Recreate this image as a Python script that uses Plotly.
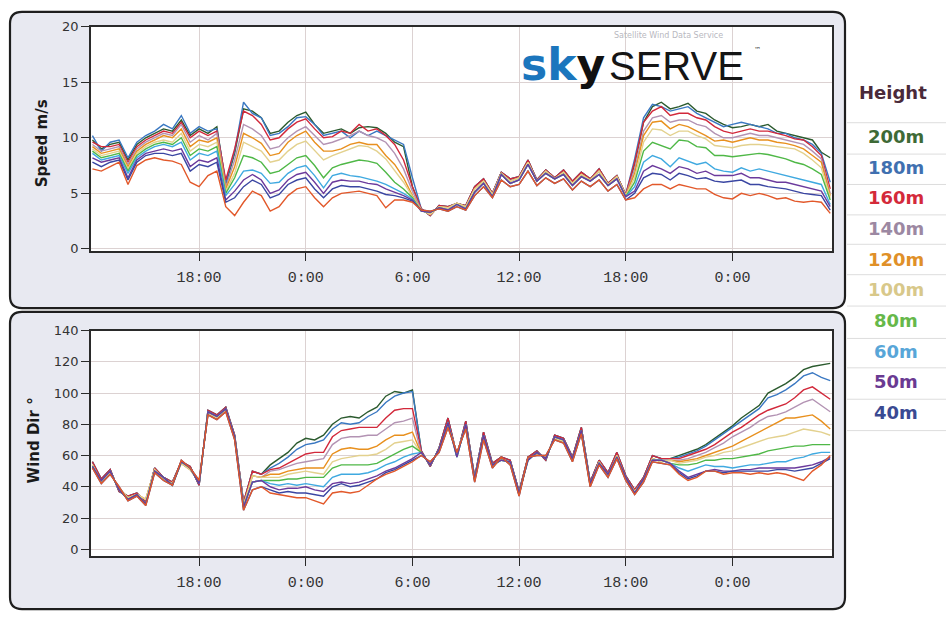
import plotly.graph_objects as go

# ---------------- data ----------------
# time axis: hours counted from midnight of day 1, 30-minute steps 12:00 -> 05:30 (day 3)
hours = [12.0 + 0.5 * i for i in range(84)]
tick_vals = [18, 24, 30, 36, 42, 48]
tick_text = ["18:00", "0:00", "6:00", "12:00", "18:00", "0:00"]

heights = ["200m", "180m", "160m", "140m", "120m", "100m", "80m", "60m", "50m", "40m", "30m"]
legend_heights = ["200m", "180m", "160m", "140m", "120m", "100m", "80m", "60m", "50m", "40m"]
line_colors = ["#2b5a2e", "#3a78c2", "#d2283a", "#b393b3", "#e8901e", "#e3d18e",
               "#4fb847", "#3fa9e0", "#6b3a9c", "#3a46a2", "#e2582a"]
legend_colors = ["#3e6a36", "#4070b0", "#d42a3a", "#9c88a2", "#e09028", "#d8c88a",
                 "#66b84a", "#58a6d8", "#6a3a92", "#3a4a92"]

# wind speed (m/s) - shared daytime stretches where all heights coincide
spd_day2_a = [3.6, 3.0, 3.9, 3.8, 4.1, 3.9, 5.6, 6.3, 5.0, 6.9, 6.3, 6.5, 8.0, 6.2, 7.1, 6.4, 7.1, 6.1, 6.9, 6.3, 7.2, 5.9, 6.6, 4.9]
spd_day2_b = [3.5, 3.1, 3.8, 3.7, 4.1, 3.8, 5.4, 6.1, 4.9, 6.8, 6.1, 6.4, 7.8, 6.1, 7.0, 6.3, 6.9, 5.9, 6.7, 6.2, 7.0, 5.8, 6.5, 4.8]
spd_day2_c = [3.4, 3.3, 3.7, 3.5, 4.0, 3.6, 5.1, 5.9, 4.7, 6.7, 5.9, 6.2, 7.6, 6.1, 6.8, 6.3, 6.7, 5.7, 6.5, 6.1, 6.7, 5.7, 6.3, 4.7]
spd_day2_d = [3.5, 3.4, 3.6, 3.4, 3.8, 3.5, 4.8, 5.6, 4.6, 6.2, 5.6, 5.8, 7.0, 5.7, 6.4, 5.9, 6.3, 5.3, 6.1, 5.6, 6.2, 5.2, 5.8, 4.4]

spd_200 = ([9.8, 9.0, 9.4, 9.6, 8.0, 9.4, 10.0, 10.4, 10.8, 10.6, 11.6, 10.2, 10.8, 10.4, 11.0, 5.8, 8.6]
           + [12.6, 12.4, 11.8, 10.4, 10.6, 11.4, 12.0, 12.3, 11.2, 10.4, 10.6, 10.8, 10.4, 10.9, 11.0, 10.9, 10.4, 9.6, 9.2, 5.6]
           + spd_day2_a
           + [7.6, 11.4, 12.8, 13.2, 12.6, 12.8, 13.1, 12.4, 12.2, 11.6, 11.2, 10.9, 11.0, 11.2, 11.0, 11.2, 10.6, 10.4, 10.2, 10.0, 9.8, 8.7, 8.2])
spd_180 = ([10.2, 8.8, 9.6, 9.8, 8.2, 9.6, 10.2, 10.6, 11.2, 10.8, 12.0, 10.4, 11.0, 10.6, 10.8, 6.0, 8.8]
           + [13.2, 12.2, 11.8, 10.2, 10.4, 11.0, 11.8, 11.9, 11.2, 10.2, 10.4, 10.6, 10.0, 10.6, 10.2, 10.6, 10.2, 9.8, 9.4, 6.4]
           + spd_day2_a
           + [8.1, 11.8, 13.0, 12.8, 12.4, 12.6, 12.8, 12.2, 11.8, 11.4, 11.0, 11.2, 11.4, 11.2, 11.0, 10.8, 10.4, 10.4, 10.0, 9.8, 9.4, 8.6, 6.0])
spd_160 = ([9.6, 9.2, 9.2, 9.4, 7.8, 9.2, 9.8, 10.2, 10.6, 10.4, 11.4, 10.0, 10.6, 10.2, 10.6, 6.2, 9.0]
           + [12.4, 12.0, 11.2, 9.8, 10.0, 10.8, 11.4, 11.7, 10.8, 10.0, 10.1, 10.6, 10.4, 11.2, 10.6, 10.8, 10.2, 9.4, 8.0, 5.6]
           + spd_day2_a
           + [7.8, 11.4, 12.4, 12.8, 12.0, 12.2, 12.2, 11.8, 11.6, 11.0, 10.6, 10.4, 10.6, 10.8, 10.6, 10.6, 10.4, 10.2, 9.9, 9.8, 9.2, 8.4, 5.4])
spd_140 = ([9.4, 8.8, 9.0, 9.2, 7.6, 9.0, 9.6, 10.0, 10.4, 10.2, 11.2, 9.6, 10.2, 9.8, 10.4, 5.6, 8.0]
           + [11.2, 10.8, 10.2, 9.0, 9.2, 10.0, 10.6, 11.0, 10.2, 9.4, 9.6, 9.9, 10.2, 10.6, 10.2, 10.0, 9.6, 8.6, 7.2, 5.2]
           + spd_day2_b
           + [7.2, 10.6, 11.8, 12.0, 11.4, 11.6, 11.6, 11.2, 11.0, 10.4, 10.0, 10.0, 10.2, 10.4, 10.2, 10.2, 10.0, 9.8, 9.6, 9.4, 8.8, 8.1, 5.0])
spd_120 = ([9.2, 8.6, 8.8, 9.0, 7.4, 8.8, 9.4, 9.8, 10.2, 10.0, 10.8, 9.2, 9.8, 9.6, 10.0, 5.4, 7.4]
           + [10.4, 10.0, 9.5, 8.4, 8.6, 9.6, 10.2, 10.6, 9.6, 8.8, 8.8, 9.0, 9.4, 9.6, 9.4, 9.4, 8.4, 7.6, 6.4, 4.8]
           + spd_day2_b
           + [6.8, 10.2, 11.4, 11.5, 10.8, 11.2, 11.0, 10.6, 10.2, 9.7, 9.8, 9.6, 9.8, 10.0, 9.8, 9.8, 9.6, 9.5, 9.3, 9.0, 8.4, 7.8, 4.8])
spd_100 = ([9.0, 8.4, 8.6, 8.8, 7.2, 8.6, 9.2, 9.6, 9.8, 9.6, 10.4, 8.8, 9.4, 9.2, 9.6, 5.2, 6.8]
           + [9.6, 9.2, 8.8, 7.8, 8.0, 8.8, 9.4, 9.7, 8.8, 8.0, 8.4, 8.7, 9.0, 9.3, 9.2, 8.8, 8.1, 7.0, 6.0, 4.7]
           + spd_day2_b
           + [6.4, 9.6, 10.8, 10.7, 10.2, 10.6, 10.6, 10.2, 9.9, 9.3, 9.2, 9.1, 9.3, 9.4, 9.4, 9.3, 9.2, 9.1, 9.0, 8.6, 8.0, 7.3, 4.6])
spd_80 = ([8.8, 8.2, 8.4, 8.6, 7.0, 8.4, 9.0, 9.4, 9.6, 9.4, 10.0, 8.4, 9.0, 8.8, 9.2, 5.0, 6.4]
          + [8.4, 8.2, 7.8, 6.8, 7.0, 7.6, 8.2, 8.4, 7.5, 6.4, 7.3, 7.6, 7.8, 8.0, 7.9, 7.7, 6.9, 6.0, 5.4, 4.6]
          + spd_day2_c
          + [6.0, 8.8, 9.6, 9.3, 9.0, 9.8, 9.7, 9.2, 9.1, 8.4, 8.4, 8.3, 8.4, 8.5, 8.6, 8.5, 8.3, 8.1, 7.8, 7.6, 7.2, 6.7, 4.4])
spd_60 = ([8.6, 8.0, 8.2, 8.4, 6.8, 8.2, 8.8, 9.2, 9.4, 9.2, 9.6, 8.0, 8.6, 8.4, 8.8, 4.8, 5.8]
          + [7.0, 7.1, 6.8, 5.9, 6.0, 6.8, 7.3, 7.5, 6.6, 5.5, 6.6, 6.8, 6.6, 6.5, 6.3, 6.1, 5.8, 5.4, 5.0, 4.5]
          + spd_day2_c
          + [5.6, 7.8, 8.4, 8.1, 7.4, 8.2, 7.9, 7.6, 7.8, 7.2, 7.0, 6.9, 7.3, 7.0, 7.2, 7.0, 6.8, 6.6, 6.4, 6.2, 6.0, 5.8, 4.0])
spd_50 = ([8.2, 7.8, 8.0, 8.2, 6.4, 8.0, 8.6, 8.8, 9.0, 8.8, 9.0, 7.4, 8.0, 7.8, 8.2, 4.4, 5.2]
          + [6.2, 6.7, 6.2, 5.0, 5.3, 6.2, 6.7, 6.9, 6.0, 5.0, 6.0, 6.2, 6.1, 6.1, 5.9, 5.8, 5.4, 5.1, 4.8, 4.4]
          + spd_day2_c
          + [5.2, 7.0, 7.5, 7.2, 6.8, 7.4, 7.2, 6.8, 7.0, 6.6, 6.6, 6.6, 6.8, 6.4, 6.4, 6.2, 6.0, 6.0, 5.8, 5.6, 5.4, 5.2, 3.8])
spd_40 = ([7.8, 7.4, 7.8, 8.0, 6.2, 7.8, 8.4, 8.6, 8.6, 8.4, 8.6, 7.0, 7.6, 7.4, 7.8, 4.2, 4.6]
          + [5.6, 6.2, 5.8, 4.6, 4.9, 5.8, 6.2, 6.4, 5.4, 4.6, 5.4, 5.7, 5.6, 5.6, 5.4, 5.2, 4.9, 4.8, 4.6, 4.3]
          + spd_day2_d
          + [5.0, 6.4, 6.8, 6.7, 6.2, 6.8, 6.6, 6.3, 6.4, 6.1, 6.0, 6.1, 6.2, 5.8, 5.8, 5.6, 5.5, 5.4, 5.2, 5.0, 4.9, 4.8, 3.5])
spd_30 = ([7.2, 7.0, 7.4, 7.8, 5.8, 7.5, 8.0, 8.2, 8.0, 7.9, 7.6, 6.0, 5.6, 6.6, 7.0, 3.8, 3.0]
          + [4.2, 5.2, 4.8, 3.4, 3.8, 4.8, 5.4, 5.6, 4.6, 3.8, 4.6, 5.0, 5.1, 5.2, 5.0, 4.8, 3.7, 4.4, 4.4, 4.2]
          + spd_day2_d
          + [4.6, 5.4, 5.8, 5.8, 5.4, 5.8, 5.6, 5.4, 5.4, 4.9, 4.6, 4.5, 5.0, 4.8, 5.0, 4.8, 4.5, 4.6, 4.3, 4.2, 4.3, 4.2, 3.2])

# wind direction (degrees) - shared stretches
dir_day1_a = [56, 45, 51, 37, 34, 36, 30, 52, 46, 43, 56, 53, 41, 89, 86, 91, 73, 30, 50, 48]
dir_day1_b = [54, 43, 49, 39, 33, 35, 32, 51, 45, 42, 55, 51, 43, 87, 84, 89, 71, 28, 47, 46]
dir_day1_c = [53, 44, 50, 38, 32, 35, 29, 50, 46, 41, 56, 52, 42, 88, 85, 90, 72, 27, 43, 44]
dir_day1_d = [52, 42, 48, 40, 31, 34, 28, 49, 44, 41, 57, 52, 44, 86, 83, 88, 70, 25, 38, 40]
dir_day2_a = [63, 53, 65, 84, 60, 82, 46, 75, 55, 59, 57, 37, 59, 63, 57, 73, 71, 59, 78, 43, 57, 49, 62, 47, 38, 46, 60, 58, 58]
dir_day2_b = [61, 55, 63, 80, 61, 79, 44, 72, 53, 58, 55, 35, 58, 61, 59, 71, 69, 57, 75, 41, 56, 47, 60, 45, 37, 44, 58, 56, 57]
dir_day2_c = [62, 54, 64, 81, 59, 80, 45, 73, 54, 57, 56, 36, 57, 62, 58, 72, 70, 58, 76, 42, 55, 48, 59, 46, 36, 45, 57, 57, 55]
dir_day2_d = [60, 56, 62, 78, 62, 77, 43, 70, 52, 59, 54, 34, 59, 60, 60, 70, 68, 56, 74, 40, 54, 46, 58, 44, 35, 43, 56, 55, 54]

dir_200 = (dir_day1_a + [54, 58, 62, 68, 71, 70, 73, 80, 84, 85, 84, 88, 91, 98, 101, 100, 102]
           + dir_day2_a + [60, 62, 64, 67, 71, 75, 79, 84, 88, 92, 100, 103, 106, 110, 115, 117, 118, 119])
dir_180 = (dir_day1_a + [52, 55, 59, 64, 67, 68, 70, 77, 81, 80, 81, 85, 88, 94, 98, 100, 101]
           + dir_day2_a + [59, 61, 63, 66, 70, 74, 78, 82, 86, 90, 97, 99, 102, 106, 111, 113, 110, 108])
dir_160 = (dir_day1_a + [51, 52, 55, 58, 61, 62, 62, 72, 76, 77, 78, 78, 78, 84, 89, 90, 90]
           + dir_day2_a + [58, 60, 62, 64, 67, 71, 75, 78, 82, 86, 89, 91, 93, 97, 102, 104, 100, 96])
dir_140 = (dir_day1_b + [50, 51, 53, 55, 56, 57, 58, 67, 71, 72, 72, 73, 73, 77, 81, 82, 84]
           + dir_day2_b + [57, 58, 60, 62, 65, 68, 72, 75, 78, 82, 85, 86, 88, 91, 94, 96, 92, 88])
dir_120 = (dir_day1_b + [48, 48, 50, 51, 52, 52, 52, 61, 64, 65, 64, 64, 66, 70, 73, 73, 75]
           + dir_day2_b + [56, 57, 58, 60, 62, 64, 66, 69, 72, 75, 78, 81, 84, 84, 85, 86, 82, 77])
dir_100 = (dir_day1_b + [46, 46, 48, 49, 50, 49, 48, 56, 58, 59, 60, 60, 61, 64, 68, 69, 70]
           + dir_day2_b + [55, 56, 57, 59, 60, 62, 63, 65, 67, 69, 71, 72, 73, 75, 77, 76, 75, 73])
dir_80 = (dir_day1_c + [44, 44, 45, 45, 46, 46, 46, 52, 54, 54, 54, 54, 55, 58, 61, 64, 66]
          + dir_day2_c + [54, 54, 55, 57, 57, 58, 58, 59, 60, 61, 63, 64, 65, 66, 66, 67, 67, 67])
dir_60 = (dir_day1_c + [42, 41, 42, 41, 42, 41, 40, 46, 48, 48, 48, 49, 51, 54, 56, 59, 61]
          + dir_day2_c + [52, 50, 52, 54, 53, 53, 52, 53, 54, 54, 55, 56, 56, 58, 59, 61, 62, 62])
dir_50 = (dir_day1_c + [40, 38, 39, 39, 40, 38, 37, 42, 43, 42, 43, 45, 47, 50, 52, 55, 58]
          + dir_day2_c + [50, 46, 48, 50, 51, 50, 50, 51, 51, 52, 52, 52, 52, 52, 53, 54, 56, 59])
dir_40 = (dir_day1_d + [38, 36, 37, 36, 36, 35, 34, 40, 42, 40, 41, 43, 45, 49, 51, 54, 57]
          + dir_day2_d + [49, 45, 47, 50, 50, 49, 50, 50, 50, 50, 50, 51, 51, 50, 51, 52, 55, 58])
dir_30 = (dir_day1_d + [36, 35, 34, 33, 33, 31, 29, 36, 37, 36, 37, 41, 45, 48, 50, 53, 56]
          + dir_day2_d + [48, 44, 46, 50, 50, 48, 49, 49, 48, 49, 48, 49, 48, 46, 44, 50, 54, 60])

speed_series = [spd_200, spd_180, spd_160, spd_140, spd_120, spd_100, spd_80, spd_60, spd_50, spd_40, spd_30]
dir_series = [dir_200, dir_180, dir_160, dir_140, dir_120, dir_100, dir_80, dir_60, dir_50, dir_40, dir_30]

for s in speed_series + dir_series:
    if len(s) != len(hours):
        raise ValueError("series length %d != %d" % (len(s), len(hours)))

# ---------------- figure ----------------
W, H = 946, 617


def fx(px):
    return px / W


def fy(py):
    return 1 - py / H


def rrect(x0, y0, x1, y1, r):
    return ("M {a},{b} L {c},{b} Q {d},{b} {d},{e} L {d},{f} Q {d},{g} {c},{g} "
            "L {a},{g} Q {h},{g} {h},{f} L {h},{e} Q {h},{b} {a},{b} Z").format(
        a=fx(x0 + r), b=fy(y0), c=fx(x1 - r), d=fx(x1), e=fy(y0 + r),
        f=fy(y1 - r), g=fy(y1), h=fx(x0))


fig = go.Figure()

for name, col, ys in zip(heights, line_colors, speed_series):
    fig.add_trace(go.Scatter(x=hours, y=ys, mode="lines", name=name,
                             line=dict(color=col, width=1.4), showlegend=False,
                             xaxis="x", yaxis="y"))
for name, col, ys in zip(heights, line_colors, dir_series):
    fig.add_trace(go.Scatter(x=hours, y=ys, mode="lines", name=name,
                             line=dict(color=col, width=1.4), showlegend=False,
                             xaxis="x2", yaxis="y2"))

plot_l, plot_r = 91, 832
top_t, top_b = 20, 249
bot_t, bot_b = 330, 560

grid_col = "#dcd2d2"
axis_common = dict(showline=True, linecolor="#2a2a2a", linewidth=1.6, mirror=True,
                   showgrid=True, gridcolor=grid_col, gridwidth=1.2, zeroline=False,
                   ticks="outside", ticklen=8, tickwidth=1.4, tickcolor="#2a2a2a")
xfont = dict(family="Liberation Mono", size=15, color="#333333")
yfont = dict(family="DejaVu Sans", size=13, color="#333333")

fig.update_layout(
    width=W, height=H, autosize=False,
    margin=dict(l=0, r=0, t=0, b=0),
    paper_bgcolor="white", plot_bgcolor="white",
    xaxis=dict(domain=[fx(plot_l), fx(plot_r)], range=[11.92, 53.6], anchor="y",
               tickvals=tick_vals, ticktext=tick_text, tickfont=xfont,
               ticklabelstandoff=3, **axis_common),
    yaxis=dict(domain=[fy(top_b), fy(top_t)], range=[-0.2, 20], anchor="x",
               tickvals=[0, 5, 10, 15, 20], tickfont=yfont, **axis_common),
    xaxis2=dict(domain=[fx(plot_l), fx(plot_r)], range=[11.92, 53.6], anchor="y2",
                tickvals=tick_vals, ticktext=tick_text, tickfont=xfont,
                ticklabelstandoff=3, **axis_common),
    yaxis2=dict(domain=[fy(bot_b), fy(bot_t)], range=[-4.4, 140], anchor="x2",
                tickvals=[0, 20, 40, 60, 80, 100, 120, 140], tickfont=yfont, **axis_common),
)

shapes = []
panel_fill = "#e8e9f1"
for (x0, y0, x1, y1) in [(10, 5, 845, 307), (10, 311, 845, 614)]:
    shapes.append(dict(type="path", path=rrect(x0, y0, x1, y1, 12), xref="paper", yref="paper",
                       fillcolor=panel_fill, line=dict(color="#1e1e1e", width=2.2), layer="below"))
for (t, b) in [(top_t, top_b), (bot_t, bot_b)]:
    shapes.append(dict(type="rect", xref="paper", yref="paper", x0=fx(plot_l), x1=fx(plot_r),
                       y0=fy(b), y1=fy(t), fillcolor="white", line=dict(width=0), layer="below"))
# legend separators
for py in [118, 150, 181, 212, 242, 273, 305, 338, 368, 400, 432]:
    shapes.append(dict(type="line", xref="paper", yref="paper", x0=fx(847), x1=1.0,
                       y0=fy(py), y1=fy(py), line=dict(color="#dddddd", width=1)))
fig.update_layout(shapes=shapes)

ann = []
# axis titles
ann.append(dict(text="<b>Speed m/s</b>", x=fx(42), y=fy(139), xref="paper", yref="paper",
                textangle=-90, showarrow=False, xanchor="center", yanchor="middle",
                font=dict(family="DejaVu Sans", size=15, color="#1a1a1a")))
ann.append(dict(text="<b>Wind Dir °</b>", x=fx(34), y=fy(442), xref="paper", yref="paper",
                textangle=-90, showarrow=False, xanchor="center", yanchor="middle",
                font=dict(family="DejaVu Sans", size=15, color="#1a1a1a")))
# legend (coloured text rows)
ann.append(dict(text="<b>Height</b>", x=fx(893), y=fy(87), xref="paper", yref="paper",
                showarrow=False, xanchor="center", yanchor="middle",
                font=dict(family="DejaVu Sans", size=18, color="#4a2a3a")))
for i, (lab, col) in enumerate(zip(legend_heights, legend_colors)):
    ann.append(dict(text="<b>%s</b>" % lab, x=fx(896), y=fy(132 + i * 31.3),
                    xref="paper", yref="paper", showarrow=False,
                    xanchor="center", yanchor="middle",
                    font=dict(family="DejaVu Sans", size=18, color=col)))
# logo
ann.append(dict(text="Satellite Wind Data Service", x=fx(668), y=fy(29), xref="paper", yref="paper",
                showarrow=False, xanchor="center", yanchor="middle",
                font=dict(family="DejaVu Sans", size=8, color="#b8b8c0")))
ann.append(dict(text="<b><span style='color:#1b76bd'>sk</span><span style='color:#111111'>y</span></b>",
                x=fx(607), y=fy(59), xref="paper", yref="paper",
                showarrow=False, xanchor="right", yanchor="middle",
                font=dict(family="DejaVu Sans", size=44, color="#1b76bd")))
ann.append(dict(text="SERVE", x=fx(607), y=fy(60), xref="paper", yref="paper",
                showarrow=False, xanchor="left", yanchor="middle",
                font=dict(family="Liberation Sans", size=40, color="#151515")))
ann.append(dict(text="™", x=fx(752), y=fy(44), xref="paper", yref="paper",
                showarrow=False, xanchor="left", yanchor="middle",
                font=dict(family="DejaVu Sans", size=7, color="#333333")))
fig.update_layout(annotations=ann)

fig.write_html("out.html", config={"displayModeBar": False},
               post_script="document.body.style.margin='0px';document.body.style.padding='0px';")
